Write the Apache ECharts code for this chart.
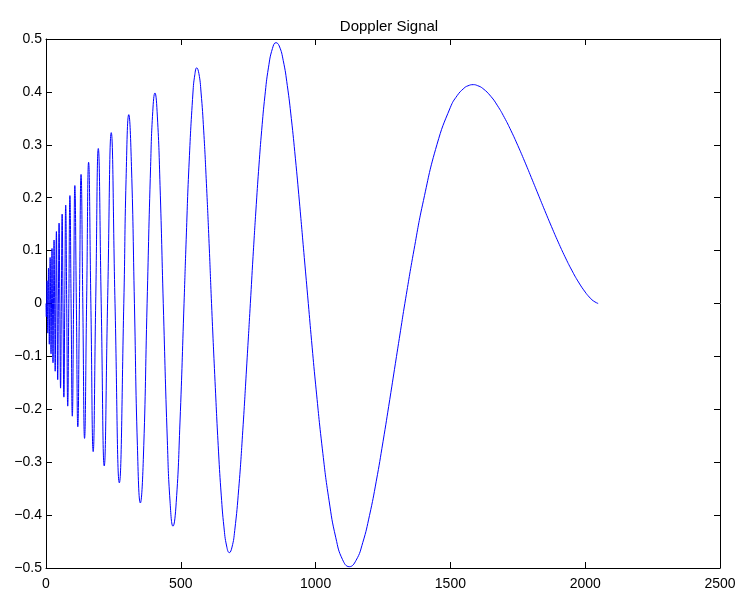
<!DOCTYPE html>
<html>
<head>
<meta charset="utf-8">
<script src="https://cdn.jsdelivr.net/npm/echarts@6/dist/echarts.min.js"></script>
<style>
html,body{margin:0;padding:0;background:#fff;}
#chart{width:740px;height:592px;}
</style>
</head>
<body>
<div id="chart"></div>
<script>
// Peaks and troughs (sample index, value)
var extremaX = [1.2, 3.8, 6.5, 9.3, 12.3, 15.4, 18.7, 22.3, 26.0, 29.9, 34.1, 38.6, 43.4, 48.5, 54.0, 59.9, 66.3, 73.1, 80.6, 88.7, 97.6, 107, 118, 130, 143, 158, 175, 194, 216, 242, 272, 307, 350, 404, 471, 559, 680, 853, 1125, 1585];
var extremaY = [-0.025, 0.043, -0.056, 0.067, -0.077, 0.087, -0.095, 0.104, -0.112, 0.120, -0.128, 0.136, -0.144, 0.152, -0.160, 0.169, -0.177, 0.186, -0.194, 0.204, -0.213, 0.223, -0.233, 0.244, -0.255, 0.267, -0.280, 0.293, -0.307, 0.323, -0.339, 0.357, -0.377, 0.398, -0.421, 0.4455, -0.471, 0.493, -0.4975, 0.4137];
// Zero crossings
var zeroX = [0, 2.5, 5.1, 7.9, 10.8, 13.8, 17.1, 20.5, 24.1, 27.9, 32.0, 36.3, 41.0, 45.9, 51.2, 56.9, 63.0, 69.6, 76.8, 84.6, 93.1, 102.4, 112.6, 124.0, 136.5, 150.6, 166.4, 184.3, 204.8, 228.4, 256, 288.6, 328, 375, 435, 512, 614, 758, 973, 1331, 2048];
// Extra points along the wider lobes
var shapeX = [297, 317, 339, 361, 388, 396, 413, 423, 450, 460, 483, 497,
  520, 530, 545, 552, 567, 575, 585, 595, 605,
  627, 640, 650, 660, 670, 690, 700, 715, 730, 745,
  768, 780, 790, 800, 812, 825, 840, 865, 880, 895, 910, 925, 940, 958,
  985, 1000, 1025, 1050, 1075, 1100, 1150, 1175, 1200, 1225, 1250, 1275, 1300, 1315,
  1365, 1400, 1450, 1500, 1525, 1550, 1565, 1600, 1620, 1650, 1675, 1700, 1725, 1750, 1775, 1800, 1825, 1850, 1875, 1900, 1925, 1950, 1975, 2000, 2015, 2030];
var shapeY = [0.2344, 0.2594, -0.2682, -0.2945, 0.2591, 0.3629, 0.3543, 0.2232, -0.2583, -0.3735, -0.3762, -0.2241,
  0.1215, 0.2567, 0.3979, 0.4324, 0.4350, 0.3997, 0.3263, 0.2272, 0.1131,
  -0.1474, -0.2805, -0.3622, -0.4223, -0.4585, -0.4604, -0.4292, -0.3493, -0.2395, -0.1127,
  0.0890, 0.1873, 0.2616, 0.3273, 0.3925, 0.4454, 0.4821, 0.4869, 0.4592, 0.4122, 0.3496, 0.2746, 0.1920, 0.0871,
  -0.0702, -0.1525, -0.2748, -0.3728, -0.4429, -0.4842, -0.4856, -0.4519, -0.4005, -0.3360, -0.2614, -0.1818, -0.1002, -0.0515,
  0.1015, 0.1946, 0.3002, 0.3709, 0.3929, 0.4068, 0.4115, 0.4120, 0.4066, 0.3916, 0.3737, 0.3518, 0.3265, 0.2987, 0.2691, 0.2383, 0.2070, 0.1758, 0.1453, 0.1160, 0.0884, 0.0631, 0.0406, 0.0216, 0.0123, 0.0050];

var xTicks = {min: 0, max: 2500, step: 500};
var yTicks = {min: -0.5, max: 0.5, step: 0.1};
var titleText = 'Doppler Signal';

var pts = [];
extremaX.forEach(function (x, i) { pts.push([x, extremaY[i]]); });
zeroX.forEach(function (x) { pts.push([x, 0]); });
shapeX.forEach(function (x, i) { pts.push([x, shapeY[i]]); });
pts.sort(function (a, b) { return a[0] - b[0]; });

var FONT = "'Liberation Sans', Arial, Helvetica, sans-serif";
function yFmt(v) {
  if (Math.abs(v) < 1e-9) return '0';
  var s = String(+v.toFixed(1));
  return s.replace('-', '\u2212');
}
function xFmt(v) { return String(Math.round(v)); }
var tickStyle = {show: true, inside: true, length: 6, lineStyle: {color: '#000', width: 1}};
var lineStyle = {show: true, onZero: false, lineStyle: {color: '#000', width: 1}};

var chart = echarts.init(document.getElementById('chart'), null, {renderer: 'canvas'});
chart.setOption({
  animation: false,
  backgroundColor: '#fff',
  title: {
    text: titleText, left: 384, top: 14, textAlign: 'center',
    textStyle: {fontFamily: FONT, fontSize: 15, fontWeight: 'normal', color: '#000'}
  },
  grid: {left: 46, top: 39, width: 674, height: 529, show: false},
  xAxis: [{
    type: 'value', min: xTicks.min, max: xTicks.max, interval: xTicks.step, position: 'bottom',
    axisLine: lineStyle, axisTick: tickStyle, splitLine: {show: false},
    axisLabel: {fontFamily: FONT, fontSize: 14, color: '#000', margin: 9, formatter: xFmt}
  }, {
    type: 'value', min: xTicks.min, max: xTicks.max, interval: xTicks.step, position: 'top',
    axisLine: lineStyle, axisTick: tickStyle, splitLine: {show: false},
    axisLabel: {show: false}
  }],
  yAxis: [{
    type: 'value', min: yTicks.min, max: yTicks.max, interval: yTicks.step, position: 'left',
    axisLine: lineStyle, axisTick: tickStyle, splitLine: {show: false},
    axisLabel: {fontFamily: FONT, fontSize: 14, color: '#000', margin: 4, formatter: yFmt}
  }, {
    type: 'value', min: yTicks.min, max: yTicks.max, interval: yTicks.step, position: 'right',
    axisLine: lineStyle, axisTick: tickStyle, splitLine: {show: false},
    axisLabel: {show: false}
  }],
  series: [{
    type: 'line', xAxisIndex: 0, yAxisIndex: 0, data: pts,
    showSymbol: false, smooth: 0.5,
    lineStyle: {color: '#0000ff', width: 1}
  }]
});
</script>
</body>
</html>
